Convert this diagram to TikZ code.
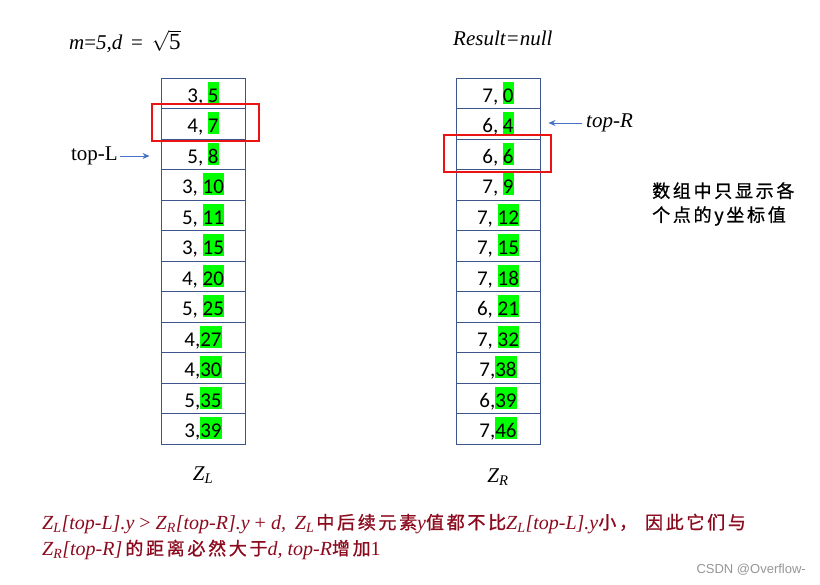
\documentclass[tikz,border=0pt]{standalone}
\usepackage{fontspec}
\setmainfont{Liberation Serif}
\newfontfamily\cellfont{Carlito}
\newfontfamily\cjk[LetterSpace=15,FakeBold=0.9]{Noto Sans CJK SC}
\newfontfamily\wmfont{Liberation Sans}
\usepackage{xcolor}
\usepackage{tikz}
\usetikzlibrary{arrows.meta,positioning,calc}
\definecolor{cellline}{RGB}{60,85,140}
\definecolor{hlgreen}{RGB}{0,255,0}
\definecolor{boxred}{RGB}{235,20,20}
\definecolor{ptrblue}{RGB}{68,114,196}
\definecolor{notered}{RGB}{140,10,30}
\definecolor{wmgray}{RGB}{150,150,150}
\tikzset{
  cell/.style={rectangle, draw=cellline, line width=0.9pt, fill=white,
               minimum width=84pt, minimum height=30.5pt, inner sep=0pt,
               font=\cellfont\fontsize{21}{25}\selectfont},
  hilite/.style={draw=boxred, line width=2pt},
  ptr/.style={-{Stealth[length=7pt,width=6pt]}, ptrblue, line width=0.8pt},
  lbl/.style={font=\fontsize{21}{25}\selectfont, inner sep=0pt},
  hint/.style={font=\cjk\fontsize{18}{24}\selectfont, inner sep=0pt, align=left},
  concl/.style={font=\fontsize{20}{26}\selectfont, text=notered, inner sep=0pt},
}
\newcommand\yval[1]{{\fboxsep=0pt\colorbox{hlgreen}{\rule[-1.5pt]{0pt}{22pt}#1}}}
\newcommand\ZL{Z\textsubscript{L}}
\newcommand\ZR{Z\textsubscript{R}}
\newcommand\zh[1]{{\cjk\fontsize{18}{26}\selectfont #1}}

\begin{document}
\begin{tikzpicture}[x=1pt,y=1pt]
  \useasboundingbox[fill=white] (0,0) rectangle (820,-585);
  % the two arrays
  \foreach \i/\a/\b in {1/{3,\ }/5, 2/{4,\ }/7, 3/{5,\ }/8, 4/{3,\ }/10, 5/{5,\ }/11, 6/{3,\ }/15,
                        7/{4,\ }/20, 8/{5,\ }/25, 9/{4,}/27, 10/{4,}/30, 11/{5,}/35, 12/{3,}/39} {
    \node[cell] (L\i) at (203,{-93.25-30.5*(\i-1)}) {\a\yval{\b}};
  }
  \foreach \i/\a/\b in {1/{7,\ }/0, 2/{6,\ }/4, 3/{6,\ }/6, 4/{7,\ }/9, 5/{7,\ }/12, 6/{7,\ }/15,
                        7/{7,\ }/18, 8/{6,\ }/21, 9/{7,\ }/32, 10/{7,}/38, 11/{6,}/39, 12/{7,}/46} {
    \node[cell] (R\i) at (498,{-93.25-30.5*(\i-1)}) {\a\yval{\b}};
  }
  % current pair
  \draw[hilite] ($(L2.south west)+(-9,-2)$) rectangle ($(L2.north east)+(14,4)$);
  \draw[hilite] ($(R3.south west)+(-12,-2)$) rectangle ($(R3.north east)+(11,4)$);
  % pointers
  \node[lbl, anchor=east] (topL) at (118,-156) {top-L};
  \node[lbl, anchor=west] (topR) at (586,-123) {\itshape top-R};
  \draw[ptr, shorten <=2pt, shorten >=11pt] (topL.east) -- (topL.east -| L3.west);
  \draw[ptr, shorten <=4pt, shorten >=8pt] (topR.west) -- (topR.west -| R2.east);
  % headers and names
  \node[lbl, anchor=west] (params) at (69,-41) {\itshape m\upshape=\itshape 5,d\upshape\ \,=\ \,$\sqrt{\mbox{\fontsize{23}{25}\selectfont 5}}$};
  \node[lbl, anchor=west] (result) at (453,-38) {\itshape Result=null};
  \node[lbl] (nameL) at (203,-475) {\itshape \ZL};
  \node[lbl] (nameR) at (498,-477) {\itshape \ZR};
  \node[hint, anchor=west] (note) at (652,-204) {数组中只显示各\\个点的y坐标值};
  % conclusion
  \node[concl, anchor=base west] (concl1) at (42,-529)
       {\itshape \ZL[top-L].y\upshape\ >\ \itshape\ZR[top-R].y\upshape\ +\ \itshape d,\hspace{9pt}\ZL\hspace{2pt}\zh{中后续元素}y\zh{值都不比}\ZL[top-L].y\zh{小，\hspace{8pt}因此它们与}};
  \node[concl, anchor=base west] (concl2) at (42,-555)
       {\itshape \ZR[top-R]\hspace{3pt}\zh{的距离必然大于}d, top-R\zh{增加}\upshape 1};
  \node[font=\wmfont\fontsize{13}{15}\selectfont, text=wmgray, anchor=east, inner sep=0pt] (mark) at (806,-570) {CSDN @Overflow-};
\end{tikzpicture}
\end{document}
